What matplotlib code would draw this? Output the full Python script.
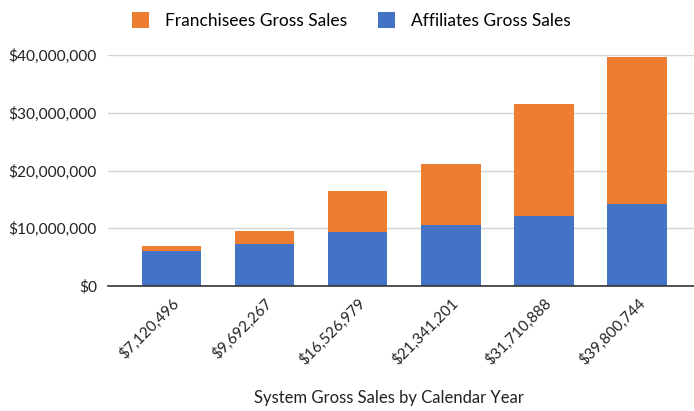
import matplotlib.pyplot as plt
from matplotlib.ticker import FuncFormatter

plt.rcParams['font.family'] = ['Lato', 'DejaVu Sans']

# totals per year (used as category labels)
totals = ["$7,120,496", "$9,692,267", "$16,526,979", "$21,341,201", "$31,710,888", "$39,800,744"]
affiliates = [6030000, 7300000, 9390000, 10600000, 12170000, 14260000]
franchisees = [980000, 2280000, 7100000, 10550000, 19380000, 25340000]

orange = "#ED7D31"
blue = "#4472C4"

fig = plt.figure(figsize=(6.94, 4.11), dpi=100)
ax = fig.add_axes([0.1556, 0.304, 0.8444, 0.562])

x = list(range(len(totals)))
ax.bar(x, affiliates, width=0.64, color=blue, label="Affiliates Gross Sales", zorder=3)
ax.bar(x, franchisees, width=0.64, bottom=affiliates, color=orange,
       label="Franchisees Gross Sales", zorder=3)

ax.set_xlim(-0.68, 5.61)
ax.set_ylim(0, 40e6)
ax.set_yticks([0, 10e6, 20e6, 30e6, 40e6])
ax.yaxis.set_major_formatter(FuncFormatter(lambda v, p: f"${v:,.0f}"))
ax.grid(axis='y', color="#d4d4d4", linewidth=1, zorder=0)

for s in ['top', 'right', 'left']:
    ax.spines[s].set_visible(False)
ax.spines['bottom'].set_color("#333333")
ax.spines['bottom'].set_linewidth(1.2)
ax.spines['bottom'].set_zorder(4)

ax.tick_params(axis='y', length=0, pad=8, labelsize=11.2, labelcolor="#222222")
ax.tick_params(axis='x', length=0, pad=7, labelsize=11, labelcolor="#222222")
ax.set_xticks(x)
ax.set_xticklabels(totals, rotation=45, ha='right', rotation_mode='anchor')

# x axis title placed at a fixed spot below the rotated labels
fig.text(0.561, 0.032, "System Gross Sales by Calendar Year", fontsize=12,
         color="#222222", ha='center', va='center')

handles, labels = ax.get_legend_handles_labels()
fig.legend(handles[::-1], labels[::-1], loc='center', bbox_to_anchor=(0.506, 0.95), ncol=2,
           frameon=False, fontsize=12.5, handlelength=1.0, handleheight=1.0,
           columnspacing=1.8, handletextpad=0.9)

fig.savefig("out.png", dpi=100)
